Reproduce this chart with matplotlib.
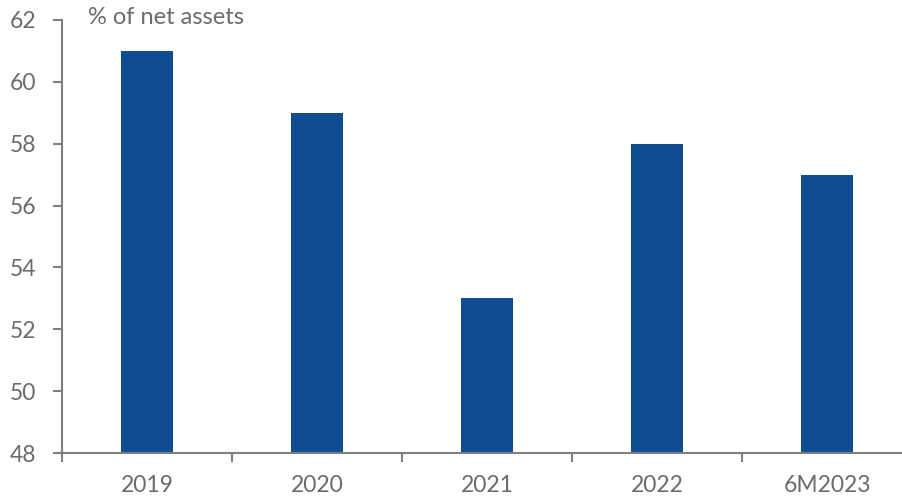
import matplotlib
matplotlib.use('Agg')
import matplotlib.pyplot as plt

categories = ['2019', '2020', '2021', '2022', '6M2023']
values = [61, 59, 53, 58, 57]
yticks = [48, 50, 52, 54, 56, 58, 60, 62]

plt.rcParams['font.family'] = ['Lato', 'DejaVu Sans']

fig = plt.figure(figsize=(9.02, 5.01), dpi=100)
ax = fig.add_axes([62 / 902, 1 - 453 / 501, 850 / 902, (453 - 20) / 501])

x = range(len(categories))
ax.bar(x, values, width=0.31, color='#104C92', zorder=2)

ax.set_ylim(48, 62)
ax.set_xlim(-0.5, len(categories) - 0.5)
ax.set_yticks(yticks)
ax.set_yticklabels([str(v) for v in yticks])

# category boundaries get the tick marks, centres get the labels
ax.set_xticks([i + 0.5 for i in range(-1, len(categories))], minor=False)
ax.set_xticklabels([''] * (len(categories) + 1))
ax.set_xticks(list(x), minor=True)
ax.set_xticklabels(categories, minor=True)

grey = '#7f7f7f'
txt = '#6b6b6b'
for s in ['top', 'right']:
    ax.spines[s].set_visible(False)
for s in ['left', 'bottom']:
    ax.spines[s].set_color(grey)
    ax.spines[s].set_linewidth(1.5)

ax.tick_params(axis='y', which='major', length=6.5, width=1.5, color=grey,
               labelcolor=txt, labelsize=16.5, pad=12)
ax.tick_params(axis='x', which='major', length=6.5, width=1.5, color=grey)
ax.tick_params(axis='x', which='minor', length=0, labelcolor=txt,
               labelsize=16.5, pad=16)

fig.text(88 / 902, 1 - 17 / 501, '% of net assets', color=txt,
         fontsize=17, va='center', ha='left')

fig.savefig('out.png', dpi=100)
